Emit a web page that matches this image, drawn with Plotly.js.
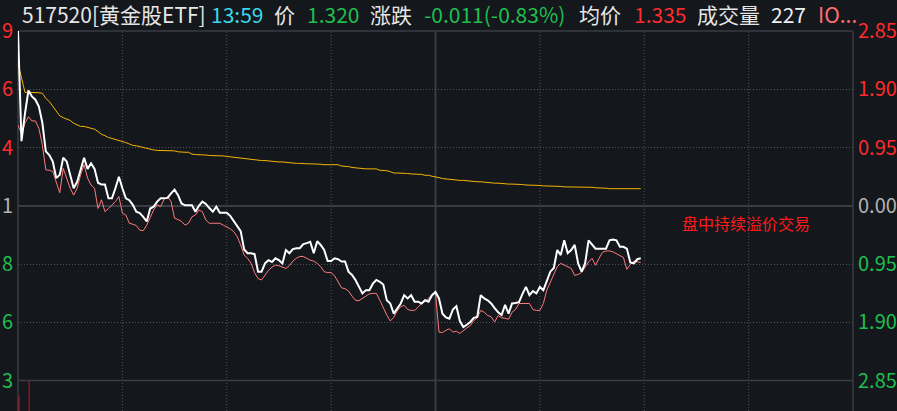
<!DOCTYPE html>
<html><head><meta charset="utf-8">
<script src="https://cdn.plot.ly/plotly-3.0.1.min.js"></script>
<style>html,body{margin:0;padding:0;background:#14171c;overflow:hidden}#chart{width:897px;height:411px}</style>
</head><body><div id="chart"></div>
<script>
// ---------------- data ----------------
const prevClose = 1.331;
const priceTicks = [1.3689, 1.3563, 1.3436, 1.331, 1.3184, 1.3057, 1.2931];
const priceTickLabels = ['1.369', '1.356', '1.344', '1.331', '1.318', '1.306', '1.293'];
const pctTicks = [2.85, 1.90, 0.95, 0, -0.95, -1.90, -2.85];
const pctTickLabels = ['2.85', '1.90', '0.95', '0.00', '0.95', '1.90', '2.85'];
const timeGridMinutes = [30, 60, 90, 150, 180, 210];
const middayMinute = 120;

const priceLine = [
1.369,1.345,1.351,1.356,1.3547,1.354,1.3525,1.349,1.3428,1.342,
1.3406,1.337,1.3377,1.3414,1.3406,1.3377,1.3348,1.3362,1.3391,1.3414,
1.339,1.3402,1.339,1.336,1.3356,1.3356,1.3326,1.3326,1.3348,1.3373,
1.3348,1.3326,1.3322,1.3312,1.3297,1.3294,1.3286,1.3276,1.3304,1.3308,
1.3319,1.3326,1.3326,1.3327,1.3337,1.3345,1.3333,1.3315,1.3311,1.3311,
1.3311,1.3297,1.331,1.3319,1.3314,1.3305,1.3297,1.3308,1.3295,1.3295,
1.3295,1.3288,1.3277,1.3268,1.3255,1.3215,1.3207,1.3207,1.3205,1.3167,
1.3167,1.3185,1.3192,1.3188,1.3196,1.3192,1.3185,1.3214,1.3207,1.3216,
1.3218,1.3218,1.3227,1.3229,1.3232,1.3207,1.3233,1.3225,1.3214,1.319,
1.319,1.3196,1.3194,1.3189,1.3189,1.3167,1.316,1.3149,1.3134,1.312,
1.3127,1.3127,1.3141,1.3149,1.3145,1.3139,1.3105,1.3098,1.3076,1.3087,
1.3098,1.3116,1.3109,1.3116,1.3102,1.3102,1.3098,1.3105,1.3102,1.3116,
1.3123,1.3109,1.3076,1.3068,1.3065,1.3085,1.3092,1.306,1.3047,1.3052,
1.3058,1.3067,1.3069,1.3116,1.3109,1.3105,1.3098,1.3088,1.3079,1.3073,
1.3095,1.3076,1.3098,1.3099,1.3101,1.3119,1.3134,1.3116,1.3125,1.312,
1.3134,1.3127,1.3145,1.3167,1.3175,1.3214,1.3203,1.3235,1.3207,1.3214,
1.3225,1.3185,1.3167,1.3185,1.3235,1.3225,1.3217,1.3217,1.3217,1.3217,
1.3235,1.3237,1.3235,1.3221,1.3221,1.3217,1.3187,1.3185,1.3194,1.3196
];

const iopvLine = [
1.3485,1.3466,1.3489,1.3503,1.3494,1.3494,1.3478,1.3442,1.3388,1.3387,
1.3384,1.3362,1.3338,1.3391,1.337,1.3348,1.3333,1.3348,1.3377,1.3399,
1.337,1.3355,1.3348,1.3304,1.3323,1.3297,1.3304,1.3312,1.3319,1.333,
1.3294,1.329,1.3272,1.327,1.3267,1.3257,1.3256,1.3268,1.3283,1.3301,
1.3312,1.3308,1.3324,1.333,1.3319,1.3283,1.328,1.3276,1.3268,1.3272,
1.3286,1.329,1.3301,1.3297,1.3279,1.3272,1.3272,1.3272,1.3272,1.3268,
1.3264,1.326,1.3254,1.3243,1.3225,1.3203,1.3196,1.3185,1.3165,1.3152,
1.3149,1.316,1.317,1.3177,1.3181,1.318,1.3177,1.3174,1.318,1.319,
1.3196,1.32,1.32,1.3196,1.3192,1.319,1.3185,1.3178,1.3167,1.3165,
1.3165,1.3158,1.3145,1.3132,1.313,1.3125,1.3114,1.3105,1.3104,1.3109,
1.3114,1.3119,1.312,1.312,1.3105,1.3088,1.3073,1.306,1.3068,1.3082,
1.3091,1.3094,1.3085,1.3083,1.3083,1.309,1.3098,1.3103,1.3109,1.3118,
1.312,1.3036,1.3035,1.304,1.3043,1.3036,1.3038,1.3033,1.304,1.3045,
1.305,1.3061,1.3067,1.3083,1.3079,1.3072,1.3069,1.3058,1.3072,1.3067,
1.3066,1.3064,1.3079,1.3085,1.3098,1.3098,1.3098,1.3098,1.3085,1.3083,
1.3083,1.3098,1.3127,1.3145,1.3159,1.3178,1.3185,1.3181,1.3178,1.3174,
1.3159,1.3161,1.3165,1.3178,1.3188,1.3196,1.3181,1.3196,1.3209,1.3212,
1.3212,1.321,1.3206,1.3203,1.3198,1.3172,1.3183,1.319,1.3188,1.3187
];

const avgLine = [
1.3619,1.3587,1.3556,1.3556,1.3556,1.3556,1.3555,1.3554,1.3543,1.3536,
1.3525,1.3514,1.3505,1.3501,1.3498,1.3495,1.3489,1.3485,1.3482,1.3482,
1.348,1.3478,1.3476,1.3471,1.3465,1.3462,1.3458,1.3456,1.3454,1.3452,
1.3449,1.3447,1.3444,1.3441,1.344,1.3438,1.3436,1.3435,1.3432,1.3431,
1.343,1.343,1.3429,1.3429,1.3429,1.3429,1.3427,1.3426,1.3426,1.3426,
1.3422,1.3421,1.3421,1.3421,1.342,1.3419,1.3419,1.3419,1.3418,1.3418,
1.3417,1.3416,1.3416,1.3415,1.3413,1.3413,1.3412,1.3411,1.341,1.3409,
1.3408,1.3408,1.3407,1.3406,1.3406,1.3405,1.3405,1.3404,1.3403,1.3403,
1.3402,1.3402,1.3401,1.3401,1.3401,1.3401,1.34,1.34,1.3399,1.3399,
1.3399,1.3399,1.3399,1.3396,1.3396,1.3395,1.3393,1.3392,1.3392,1.3391,
1.339,1.339,1.339,1.339,1.3387,1.3387,1.3386,1.3384,1.3381,1.3381,
1.3381,1.3381,1.338,1.3379,1.3379,1.3379,1.3378,1.3376,1.3376,1.3374,
1.3373,1.3371,1.3369,1.3368,1.3367,1.3366,1.3366,1.3365,1.3365,1.3364,
1.3363,1.3363,1.3362,1.3362,1.3361,1.336,1.336,1.3359,1.3359,1.3358,
1.3358,1.3357,1.3357,1.3357,1.3356,1.3356,1.3355,1.3355,1.3355,1.3354,
1.3354,1.3353,1.3353,1.3353,1.3352,1.3352,1.3352,1.3351,1.3351,1.3351,
1.3351,1.335,1.335,1.335,1.335,1.335,1.3349,1.3349,1.3348,1.3348,
1.3347,1.3347,1.3347,1.3347,1.3347,1.3347,1.3347,1.3347,1.3347,1.3347
];

const volMinutes = [0.3, 3.2];
const volValues = [50, 140];

const headerTexts = ['517520[黄金股ETF]', '13:59', '价', '1.320', '涨跌', '-0.011(-0.83%)', '均价', '1.335', '成交量', '227', 'IO...'];
const noteText = '盘中持续溢价交易';

// ---------------- styling / layout ----------------
const W = 897, H = 411, ML = 18, MR = 44, MT = 31, MB = 0;
const PW = W - ML - MR, PH = H - MT - MB;
const pxX = x => (x - ML) / PW;
const pxY = y => (H - MB - y) / PH;
const mainBottom = pxY(380.5);

const RED = '#ff2b2b', GREEN = '#1fbf4f', GRAY = '#b4b4b4';
const FONT = '"Noto Sans CJK SC", "Noto Sans", sans-serif';
const colorFor = v => v > 0 ? RED : (v < 0 ? GREEN : GRAY);

const minutes = priceLine.map((_, i) => i);

const traces = [
  {x: minutes, y: avgLine, type: 'scatter', mode: 'lines', line: {color: '#f5b400', width: 1}, hoverinfo: 'skip'},
  {x: minutes, y: iopvLine, type: 'scatter', mode: 'lines', line: {color: '#ff7a7a', width: 1}, hoverinfo: 'skip'},
  {x: minutes, y: priceLine, type: 'scatter', mode: 'lines', line: {color: '#ffffff', width: 2}, hoverinfo: 'skip'},
  {x: [0, 240], y: [0, 0], yaxis: 'y2', type: 'scatter', mode: 'lines', line: {width: 0}, hoverinfo: 'skip', showlegend: false},
  {x: volMinutes, y: volValues, yaxis: 'y3', type: 'bar', width: 0.3, marker: {color: '#c3141a', line: {width: 0}}, hoverinfo: 'skip'}
];

const headerColors = ['#e6e6e6', '#3ad6ec', '#e6e6e6', GREEN, '#e6e6e6', GREEN, '#e6e6e6', RED, '#e6e6e6', '#f0f0f0', '#ff6f6f'];
const headerX = [20, 209, 272, 305, 368, 422, 577, 632, 695, 769, 816];

const annotations = headerTexts.map((t, i) => ({
  text: t, xref: 'paper', yref: 'paper', x: pxX(headerX[i]), y: pxY(14),
  xanchor: 'left', yanchor: 'middle', showarrow: false,
  font: {family: FONT, size: 21, color: headerColors[i]}
}));
annotations.push({
  text: noteText, xref: 'paper', yref: 'paper', x: pxX(746), y: pxY(223),
  xanchor: 'center', yanchor: 'middle', showarrow: false,
  font: {family: FONT, size: 16, color: '#ff1a1a'}
});

const LINE = '#3a3d45', DOT = '#50535b';
const shapes = [];
timeGridMinutes.forEach(m => shapes.push({type: 'line', xref: 'x', yref: 'paper', x0: m, x1: m, y0: 0, y1: 1, layer: 'below', line: {color: DOT, width: 1, dash: '1px,2px'}}));
shapes.push({type: 'line', xref: 'x', yref: 'paper', x0: middayMinute, x1: middayMinute, y0: 0, y1: 1, layer: 'below', line: {color: LINE, width: 2}});
shapes.push({type: 'line', xref: 'paper', yref: 'paper', x0: 0, x1: 0, y0: 0, y1: 1, layer: 'below', line: {color: LINE, width: 1.5}});
shapes.push({type: 'line', xref: 'paper', yref: 'paper', x0: 1, x1: 1, y0: 0, y1: 1, layer: 'below', line: {color: LINE, width: 1.5}});
shapes.push({type: 'line', xref: 'paper', yref: 'paper', x0: 0, x1: 1, y0: 1, y1: 1, layer: 'below', line: {color: LINE, width: 1.5}});
shapes.push({type: 'line', xref: 'paper', yref: 'paper', x0: 0, x1: 1, y0: mainBottom, y1: mainBottom, layer: 'below', line: {color: LINE, width: 1.5}});

const layout = {
  width: W, height: H,
  margin: {l: ML, r: MR, t: MT, b: MB, pad: 0},
  paper_bgcolor: '#14171c', plot_bgcolor: '#14171c',
  showlegend: false,
  xaxis: {range: [0, 240], showgrid: false, zeroline: false, showticklabels: false, showline: false, ticks: '', fixedrange: true},
  yaxis: {
    domain: [mainBottom, 1], range: [priceTicks[6], priceTicks[0]],
    tickmode: 'array', tickvals: priceTicks,
    ticktext: priceTickLabels.map((s, i) => '<span style="color:' + colorFor(priceTicks[i] - prevClose) + '">' + s.slice(-1) + '</span>'),
    tickfont: {family: FONT, size: 20}, ticks: '', ticklabelstandoff: 4,
    showgrid: false, zeroline: false, showline: false, fixedrange: true
  },
  yaxis2: {
    overlaying: 'y', side: 'right', range: [-2.85, 2.85],
    tickmode: 'array', tickvals: pctTicks,
    ticktext: pctTickLabels.map((s, i) => '<span style="color:' + colorFor(pctTicks[i]) + '">' + s + '</span>'),
    tickfont: {family: FONT, size: 20}, ticks: '', ticklabelstandoff: 4,
    showgrid: true, gridcolor: DOT, gridwidth: 1, griddash: '1px,2px',
    zeroline: true, zerolinecolor: LINE, zerolinewidth: 2, showline: false, fixedrange: true
  },
  yaxis3: {domain: [0, mainBottom], range: [0, 100], showgrid: false, zeroline: false, showticklabels: false, showline: false, ticks: '', fixedrange: true},
  annotations: annotations,
  shapes: shapes
};

Plotly.newPlot('chart', traces, layout, {staticPlot: true, displayModeBar: false});
</script>
</body></html>
